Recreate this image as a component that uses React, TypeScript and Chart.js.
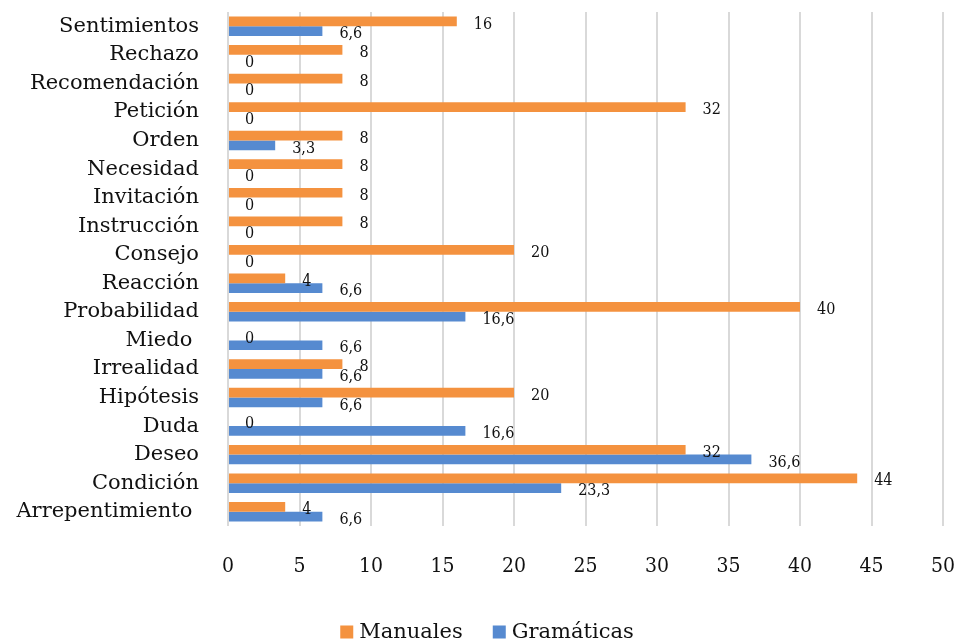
import React, { useEffect, useRef } from "react";
import { Chart, registerables } from "chart.js";

Chart.register(...registerables);

const categories = [
  "Sentimientos",
  "Rechazo",
  "Recomendación",
  "Petición",
  "Orden",
  "Necesidad",
  "Invitación",
  "Instrucción",
  "Consejo",
  "Reacción",
  "Probabilidad",
  "Miedo ",
  "Irrealidad",
  "Hipótesis",
  "Duda",
  "Deseo",
  "Condición",
  "Arrepentimiento ",
];

const manuales = [16, 8, 8, 32, 8, 8, 8, 8, 20, 4, 40, 0, 8, 20, 0, 32, 44, 4];
const gramaticas = [6.6, 0, 0, 0, 3.3, 0, 0, 0, 0, 6.6, 16.6, 6.6, 6.6, 6.6, 16.6, 36.6, 23.3, 6.6];

const seriesNames = ["Manuales", "Gramáticas"];
const seriesColors = ["#F4923F", "#568AD0"];
const xTicks = [0, 5, 10, 15, 20, 25, 30, 35, 40, 45, 50];

const SERIF = "'DejaVu Serif', 'Liberation Serif', serif";
const SERIF_NARROW = "'DejaVu Serif Condensed', 'Liberation Serif', serif";

const fmt = (v: number) => String(v).replace(".", ",");

// value labels at the end of every bar, plus the legend row underneath
const annotate = {
  id: "annotate",
  afterDatasetsDraw(chart: any) {
    const ctx = chart.ctx as CanvasRenderingContext2D;
    ctx.save();
    ctx.fillStyle = "#111";
    ctx.font = `16px ${SERIF_NARROW}`;
    ctx.textAlign = "left";
    ctx.textBaseline = "middle";
    chart.data.datasets.forEach((ds: any, i: number) => {
      const meta = chart.getDatasetMeta(i);
      meta.data.forEach((bar: any, j: number) => {
        ctx.fillText(fmt(ds.data[j]), bar.x + 17, bar.y + 3);
      });
    });

    // legend
    ctx.font = `21px ${SERIF}`;
    const box = 13;
    const gap = 6;
    const spacing = 30;
    const items = chart.data.datasets.map((ds: any) => ({
      label: ds.label,
      color: ds.backgroundColor,
      w: box + gap + ctx.measureText(ds.label).width,
    }));
    const total = items.reduce((s: number, it: any) => s + it.w, 0) + spacing * (items.length - 1);
    let x = 487 - total / 2;
    const y = 632;
    items.forEach((it: any) => {
      ctx.fillStyle = it.color;
      ctx.fillRect(x, y - box / 2, box, box);
      ctx.fillStyle = "#111";
      ctx.fillText(it.label, x + box + gap, y + 1);
      x += it.w + spacing;
    });
    ctx.restore();
  },
};

const noPadding = (scale: any) => {
  scale.paddingTop = 0;
  scale.paddingBottom = 0;
  scale.paddingLeft = 0;
  scale.paddingRight = 0;
};

export default function App() {
  const canvasRef = useRef<HTMLCanvasElement | null>(null);

  useEffect(() => {
    document.body.style.margin = "0";
    const canvas = canvasRef.current;
    if (!canvas) return;
    const chart = new Chart(canvas, {
      type: "bar",
      data: {
        labels: categories,
        datasets: [
          { label: seriesNames[0], data: manuales, backgroundColor: seriesColors[0] },
          { label: seriesNames[1], data: gramaticas, backgroundColor: seriesColors[1] },
        ],
      },
      options: {
        indexAxis: "y",
        responsive: false,
        animation: false,
        devicePixelRatio: 1,
        layout: { padding: { top: 12, right: 16, left: 0, bottom: 0 } },
        datasets: {
          bar: { categoryPercentage: 0.68, barPercentage: 1 },
        },
        plugins: {
          legend: { display: false },
          tooltip: { enabled: false },
        },
        scales: {
          x: {
            min: 0,
            max: 50,
            afterFit: (scale: any) => {
              scale.height = 118;
              noPadding(scale);
            },
            afterBuildTicks: (scale: any) => {
              scale.ticks = xTicks.map((v) => ({ value: v }));
            },
            grid: { color: "#D9D9D9", lineWidth: 2, drawTicks: false },
            border: { display: false },
            ticks: {
              padding: 28,
              color: "#111",
              font: { family: SERIF_NARROW, size: 21 },
            },
          },
          y: {
            afterFit: (scale: any) => {
              scale.width = 228;
              noPadding(scale);
            },
            grid: { display: false, drawTicks: false },
            border: { display: false },
            ticks: {
              padding: 29,
              autoSkip: false,
              color: "#111",
              font: { family: SERIF, size: 21 },
            },
          },
        },
      },
      plugins: [annotate],
    });
    return () => chart.destroy();
  }, []);

  return <canvas ref={canvasRef} width={959} height={644} style={{ display: "block" }} />;
}
